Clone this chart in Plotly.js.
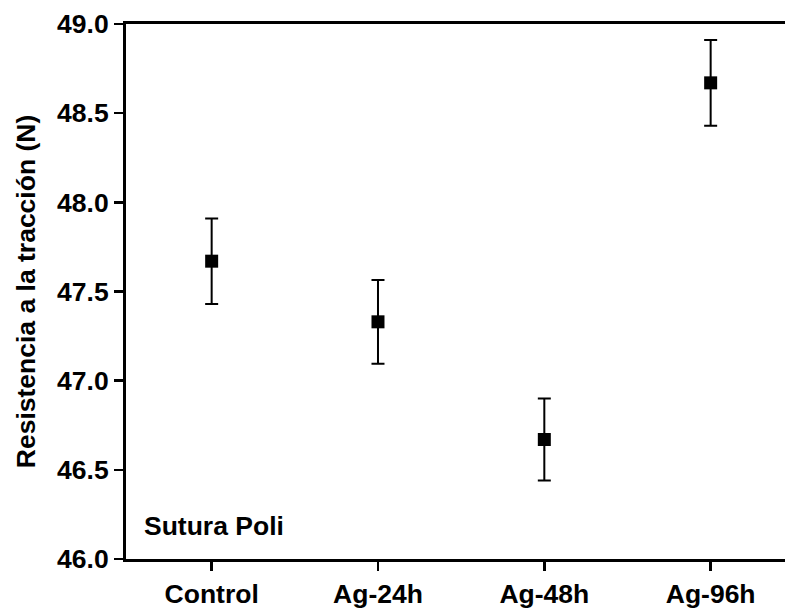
<!DOCTYPE html>
<html>
<head>
<meta charset="utf-8">
<script src="https://cdn.plot.ly/plotly-3.0.1.min.js"></script>
<style>html,body{margin:0;padding:0;background:#fff;}#chart{width:785px;height:608px;}</style>
</head>
<body>
<div id="chart"></div>
<script>
const categories = ["Control", "Ag-24h", "Ag-48h", "Ag-96h"];
const values = [47.67, 47.33, 46.67, 48.67];
const errors = [0.24, 0.235, 0.23, 0.24];
const yTickValues = [46.0, 46.5, 47.0, 47.5, 48.0, 48.5, 49.0];
const yTickLabels = ["46.0", "46.5", "47.0", "47.5", "48.0", "48.5", "49.0"];
const yTitle = "Resistencia a la tracción (N)";
const sampleLabel = "Sutura Poli";

const font = "Liberation Sans, Arial, sans-serif";
const trace = {
  x: categories.map((c, i) => i),
  y: values,
  type: "scatter",
  mode: "markers",
  marker: {symbol: "square", size: 13, color: "#000"},
  error_y: {type: "data", array: errors, visible: true, color: "#000", thickness: 2, width: 6.5},
  showlegend: false,
  hoverinfo: "skip"
};
const layout = {
  width: 785, height: 608,
  margin: {l: 126, r: 0, t: 24, b: 49},
  paper_bgcolor: "#fff", plot_bgcolor: "#fff",
  font: {family: font, color: "#000"},
  xaxis: {
    range: [-0.515, 3.447],
    tickmode: "array", tickvals: categories.map((c, i) => i), ticktext: categories,
    ticks: "outside", ticklen: 9, tickwidth: 2.5, tickcolor: "#000",
    showline: true, linewidth: 3, linecolor: "#000", mirror: true,
    showgrid: false, zeroline: false,
    tickfont: {family: font, size: 26.5, weight: "bold", color: "#000"},
    automargin: false
  },
  yaxis: {
    range: [46.0, 49.0],
    tickmode: "array", tickvals: yTickValues, ticktext: yTickLabels,
    ticks: "outside", ticklen: 9, tickwidth: 2.5, tickcolor: "#000",
    showline: true, linewidth: 3, linecolor: "#000",
    showgrid: false, zeroline: false,
    tickfont: {family: font, size: 26.5, weight: "bold", color: "#000"},
    title: {text: yTitle, font: {family: font, size: 26.5, weight: "bold", color: "#000"}, standoff: 14},
    automargin: false
  },
  annotations: [{
    text: sampleLabel, xref: "paper", yref: "paper", x: 0.025, y: 0.062,
    xanchor: "left", yanchor: "middle", showarrow: false,
    font: {family: font, size: 26.5, weight: "bold", color: "#000"}
  }]
};
Plotly.newPlot("chart", [trace], layout, {displayModeBar: false, staticPlot: true});
</script>
</body>
</html>
